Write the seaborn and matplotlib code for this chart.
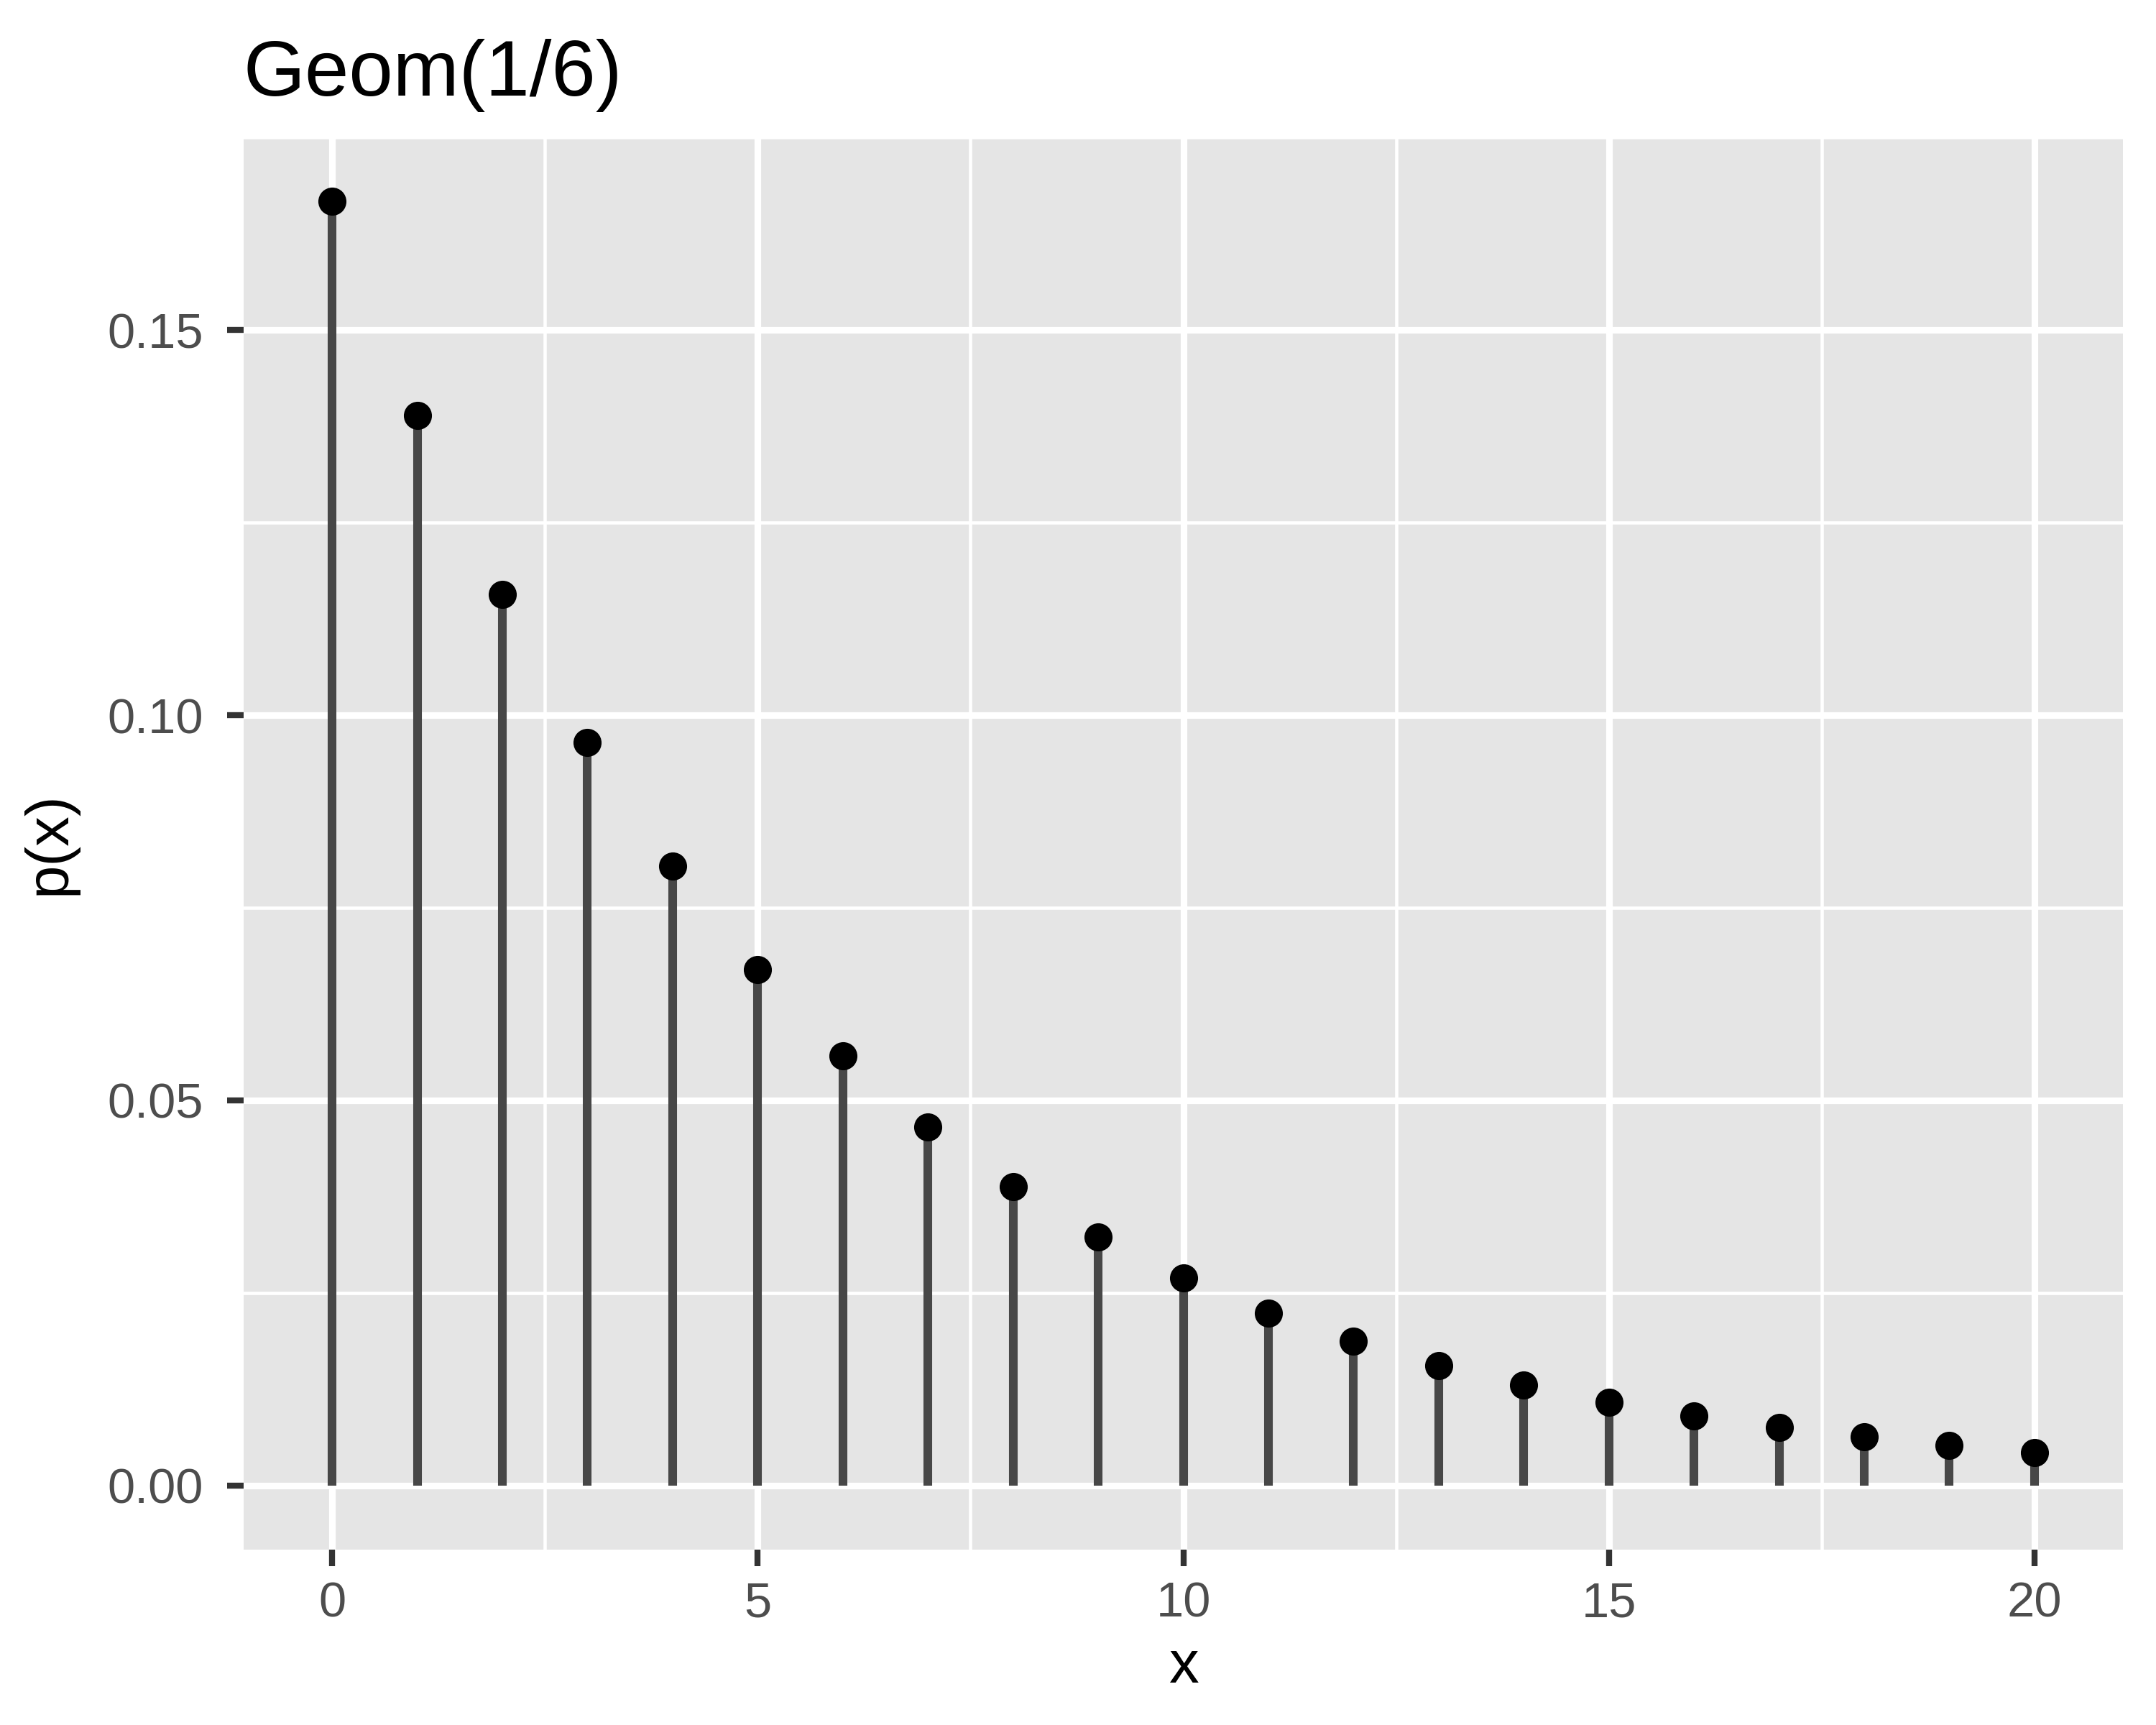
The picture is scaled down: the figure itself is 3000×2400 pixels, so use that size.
import matplotlib
matplotlib.use("Agg")
import matplotlib.pyplot as plt
import seaborn as sns
import pandas as pd
from matplotlib.ticker import MultipleLocator

# values (Geom(1/6) pmf, x = 0..20)
x_vals = list(range(21))
p_vals = [0.1667, 0.1389, 0.1157, 0.0965, 0.0804, 0.0670, 0.0558, 0.0465,
          0.0388, 0.0323, 0.0269, 0.0224, 0.0187, 0.0156, 0.0130, 0.0108,
          0.0090, 0.0075, 0.0063, 0.0052, 0.0043]
x_ticks = [0, 5, 10, 15, 20]
y_ticks = [0.00, 0.05, 0.10, 0.15]
y_tick_labels = ["0.00", "0.05", "0.10", "0.15"]
title = "Geom(1/6)"

df = pd.DataFrame({"x": x_vals, "p": p_vals})

sns.set_theme(style="darkgrid")
plt.rcParams["font.family"] = ["Liberation Sans", "DejaVu Sans"]

fig, ax = plt.subplots(figsize=(10, 8), dpi=300)
fig.subplots_adjust(left=339 / 3000, right=2954 / 3000,
                    bottom=1 - 2156 / 2400, top=1 - 191 / 2400)

ax.set_facecolor("#E5E5E5")

# stems + points
ax.vlines(df["x"], 0, df["p"], color="#474747", linewidth=2.9, zorder=3)
sns.scatterplot(data=df, x="x", y="p", ax=ax, color="black", s=88,
                linewidth=0, zorder=4)

# ggplot-like expansion
xr = max(x_vals) - min(x_vals)
yr = max(p_vals) - 0
ax.set_xlim(min(x_vals) - 0.052 * xr, max(x_vals) + 0.052 * xr)
ax.set_ylim(0 - 0.05 * yr, max(p_vals) + 0.05 * yr)

ax.set_xticks(x_ticks)
ax.set_yticks(y_ticks)
ax.set_yticklabels(y_tick_labels)
ax.xaxis.set_minor_locator(MultipleLocator(2.5))
ax.yaxis.set_minor_locator(MultipleLocator(0.025))

ax.grid(which="major", color="white", linewidth=2.2)
ax.grid(which="minor", color="white", linewidth=1.1)
ax.set_axisbelow(True)

for s in ax.spines.values():
    s.set_visible(False)

ax.tick_params(axis="both", which="major", length=5.5, width=2,
               color="#333333", labelsize=16.5, labelcolor="#4D4D4D",
               bottom=True, left=True)
ax.tick_params(axis="x", which="major", pad=5)
ax.tick_params(axis="y", which="major", pad=8)
ax.tick_params(axis="both", which="minor", length=0)

ax.set_xlabel("x", fontsize=20, color="black", labelpad=4)
ax.set_ylabel("p(x)", fontsize=20, color="black", labelpad=10)
ax.set_title(title, loc="left", fontsize=26.5, color="black", pad=14)

fig.savefig("out.png", dpi=300)
